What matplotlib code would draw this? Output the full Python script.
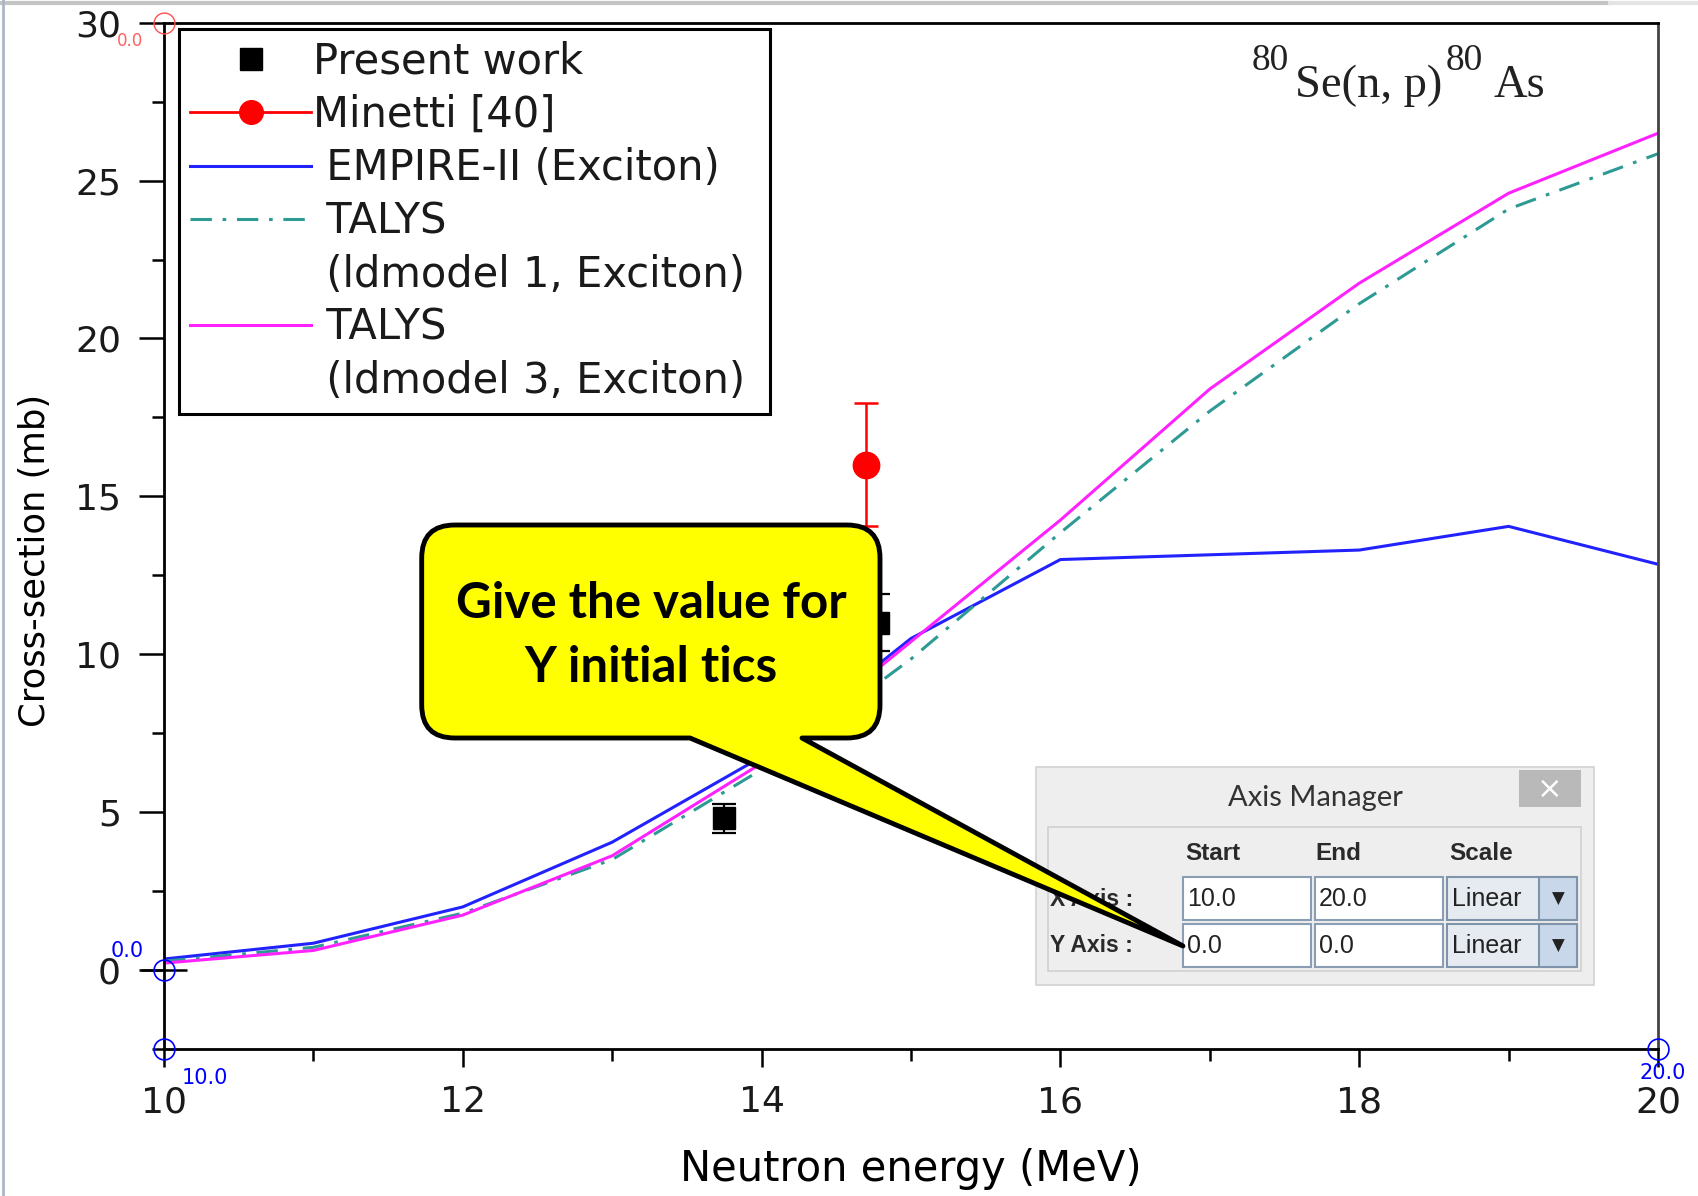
import matplotlib
matplotlib.use('Agg')
import matplotlib.pyplot as plt
from matplotlib.lines import Line2D
from matplotlib.patches import Rectangle, PathPatch
from matplotlib.path import Path
from matplotlib.ticker import MultipleLocator

W, H = 1698, 1196

# cross-section curves (mb) vs neutron energy (MeV)
energy = [10, 11, 12, 13, 14, 15, 16, 17, 18, 19, 20]
empire = [0.35, 0.85, 2.0, 4.05, 6.75, 10.5, 13.0, 13.15, 13.3, 14.05, 12.85]
talys_ld1 = [0.28, 0.72, 1.8, 3.5, 6.35, 9.85, 13.85, 17.7, 21.1, 24.1, 25.85]
talys_ld3 = [0.22, 0.62, 1.74, 3.62, 6.55, 10.4, 14.25, 18.4, 21.75, 24.6, 26.5]

# measured points
present_e = [13.75, 14.78]
present_xs = [4.8, 11.0]
present_err = [0.45, 0.9]
minetti_e = [14.7]
minetti_xs = [16.0]
minetti_err = [1.95]

# digitizer calibration points
calib_x = [10, 10, 20]
calib_y = [0, -2.5, -2.5]
calib_labels = ['0.0', '10.0', '20.0']
calib_red = (10, 30)

# axis manager values
x_range = ['10.0', '20.0']
y_range = ['0.0', '0.0']
scale_names = ['Linear', 'Linear']


def fx(x):
    return x / W


def fy(y):
    return 1 - y / H


plt.rcParams['text.color'] = '#1a1a1a'

fig = plt.figure(figsize=(W / 100, H / 100), dpi=100)
ax = fig.add_axes([fx(164), fy(1049), (1658 - 164) / W, (1049 - 22.7) / H])

l_emp, = ax.plot(energy, empire, color='#2222ff', lw=2.2)
l_ld1, = ax.plot(energy, talys_ld1, color='#2e9a94', lw=2.2, ls=(0, (7, 3.5, 1.2, 3.5)))
l_ld3, = ax.plot(energy, talys_ld3, color='#ff22ff', lw=2.2)
ax.errorbar(present_e, present_xs, yerr=present_err, fmt='s', color='k', ms=16,
            capsize=8.5, elinewidth=1.6, capthick=1.6, zorder=4)
ax.errorbar(minetti_e, minetti_xs, yerr=minetti_err, fmt='o-', color='red', ms=19,
            capsize=8.5, elinewidth=1.8, capthick=1.8, zorder=4)

ax.set_xlim(10, 20)
ax.set_ylim(-2.5, 30)
ax.xaxis.set_major_locator(MultipleLocator(2))
ax.xaxis.set_minor_locator(MultipleLocator(1))
ax.yaxis.set_major_locator(MultipleLocator(5))
ax.yaxis.set_minor_locator(MultipleLocator(2.5))
ax.tick_params(axis='y', which='major', length=18, width=1.8, pad=13, labelsize=26, labelcolor='#1a1a1a')
ax.tick_params(axis='x', which='major', length=13, width=1.8, pad=13, labelsize=26, labelcolor='#1a1a1a')
ax.tick_params(which='minor', length=8.6, width=1.8)
for side in ['left', 'bottom', 'top']:
    ax.spines[side].set_linewidth(2)
ax.spines['right'].set_linewidth(2)
ax.spines['right'].set_color('#444444')

ax.set_xlabel('Neutron energy (MeV)', fontsize=30)
ax.xaxis.set_label_coords(0.5, -(1148 - 1049) / 1026.3)
ax.set_ylabel('Cross-section (mb)', fontsize=25.5)
ax.yaxis.set_label_coords((52 - 164) / 1494, 0.4765)

# reaction label: 80Se(n, p)80As with large mass numbers
for x0, y0, s, size in [(1252, 70, '80', 27), (1295, 97, 'Se(n, p)', 33.5),
                        (1446, 70, '80', 27), (1494, 97, 'As', 33.5)]:
    fig.text(fx(x0), fy(y0), s, fontsize=size, fontfamily='Liberation Serif',
             color='#222222', ha='left', va='baseline')

# legend, two-line TALYS labels use an empty handle for the second row
blank = Line2D([], [], ls='none')
handles = [Line2D([], [], ls='none', marker='s', ms=16, color='k'),
           Line2D([], [], color='red', marker='o', ms=17, lw=2),
           l_emp, l_ld1, blank, l_ld3, blank]
labels = ['Present work', 'Minetti [40]', ' EMPIRE-II (Exciton)', ' TALYS',
          ' (ldmodel 1, Exciton)', ' TALYS', ' (ldmodel 3, Exciton) ']
leg = ax.legend(handles, labels, loc='upper left', bbox_to_anchor=(14.6 / 1494, 1 - 6.3 / 1026.3),
                borderaxespad=0, fontsize=30, handlelength=2.9, handletextpad=0.05,
                labelspacing=0.27, borderpad=0.28, fancybox=False, edgecolor='k',
                framealpha=1, numpoints=1)
leg.get_frame().set_linewidth(2.2)

# calibration markers of the digitizer
ax.plot(calib_x, calib_y, 'o', mfc='none', mec='blue', ms=15, mew=1.2, clip_on=False, zorder=6)
ax.plot([calib_red[0]], [calib_red[1]], 'o', mfc='none', mec='#ff5050', ms=15, mew=1.0,
        clip_on=False, zorder=6)
ax.plot([calib_x[0]], [calib_y[0]], marker='_', ms=33, mew=1.8, color='k', clip_on=False, zorder=5)
offsets = [(-14.5, 6.5, 'right', 'bottom'), (13, -13.5, 'left', 'top'), (3.6, -10, 'center', 'top')]
for x, y, t, (dx, dy, ha, va) in zip(calib_x, calib_y, calib_labels, offsets):
    ax.annotate(t, xy=(x, y), xytext=(dx, dy), textcoords='offset points', ha=ha, va=va,
                color='blue', fontsize=15, annotation_clip=False)
ax.annotate('0.0', xy=calib_red, xytext=(-15, -6.5), textcoords='offset points', ha='right',
            va='top', color='#ff6060', fontsize=12, annotation_clip=False)

# window edges
fig.add_artist(Line2D([0, fx(1610)], [fy(2.5)] * 2, color='#c4c4c4', lw=3, transform=fig.transFigure))
fig.add_artist(Line2D([fx(1610), 1], [fy(2.5)] * 2, color='#e4e4e4', lw=3, transform=fig.transFigure))
fig.add_artist(Line2D([fx(2.5)] * 2, [0, 1], color='#aab6c6', lw=2, transform=fig.transFigure))


def box(x0, y0, x1, y1, **kw):
    r = Rectangle((fx(x0), fy(y1)), fx(x1) - fx(x0), fy(y0) - fy(y1),
                  transform=fig.transFigure, **kw)
    fig.add_artist(r)
    return r


# axis manager dialog
box(1036, 767, 1594, 985, fc='#eeeeee', ec='#d2d2d2', lw=1.2, zorder=10)
box(1048, 827, 1581, 971, fc='#eeeeee', ec='#d0d0d0', lw=1.2, zorder=10)
box(1519, 770, 1581, 807, fc='#b9b9b9', ec='none', zorder=10)
fig.text(fx(1550), fy(789), '\u00d7', color='white', fontsize=22, ha='center', va='center', zorder=11)
fig.text(fx(1315), fy(798), 'Axis Manager', fontsize=21, fontfamily='Lato', color='#333333',
         ha='center', va='center', zorder=11)
for xh, name in zip([1185, 1315, 1449], ['Start', 'End', 'Scale']):
    fig.text(fx(xh), fy(853), name, fontsize=17.5, fontweight='bold', fontfamily='Liberation Sans',
             color='#2a2a2a', ha='left', va='center', zorder=11)
rows = [('X Axis :', 877, x_range, scale_names[0]), ('Y Axis :', 924, y_range, scale_names[1])]
for name, top, vals, sc in rows:
    cy = top + 22
    fig.text(fx(1050), fy(cy), name, fontsize=16.5, fontweight='bold', fontfamily='Liberation Sans',
             color='#2a2a2a', ha='left', va='center', zorder=11)
    for x0, v in zip([1183, 1315], vals):
        box(x0, top, x0 + 128, top + 43, fc='white', ec='#8b9db3', lw=1.5, zorder=10)
        fig.text(fx(x0 + 4), fy(cy), v, fontsize=18, fontfamily='Liberation Sans', color='#222222',
                 ha='left', va='center', zorder=11)
    box(1447, top, 1577, top + 43, fc='#e6ebf1', ec='#7f93ab', lw=1.5, zorder=10)
    box(1539, top, 1577, top + 43, fc='#c8d8ea', ec='#7f93ab', lw=1.5, zorder=10)
    fig.text(fx(1452), fy(cy), sc, fontsize=18, fontfamily='Liberation Sans', color='#222222',
             ha='left', va='center', zorder=11)
    fig.text(fx(1558), fy(cy), '\u25bc', fontsize=12, color='#222222', ha='center', va='center', zorder=11)

# callout bubble with a tail pointing at the Y start field
L, R, T, B, rad = 421.7, 880, 525, 738, 33
tip = (1183, 946)
pts = [(L + rad, T), (R - rad, T), (R, T), (R, T + rad), (R, B - rad), (R, B), (R - rad, B),
       (802, B), tip, (690, B), (L + rad, B), (L, B), (L, B - rad), (L, T + rad), (L, T), (L + rad, T)]
codes = [Path.MOVETO, Path.LINETO, Path.CURVE3, Path.CURVE3, Path.LINETO, Path.CURVE3, Path.CURVE3,
         Path.LINETO, Path.LINETO, Path.LINETO, Path.LINETO, Path.CURVE3, Path.CURVE3, Path.LINETO,
         Path.CURVE3, Path.CURVE3]
bubble = Path([(fx(x), fy(y)) for x, y in pts], codes)
fig.add_artist(PathPatch(bubble, fc='#ffff00', ec='black', lw=3.5, joinstyle='round',
                         transform=fig.transFigure, zorder=20))
fig.text(fx(651), fy(618), 'Give the value for', fontsize=35.5, fontweight='bold', fontfamily='Lato',
         color='black', ha='center', va='baseline', zorder=21)
fig.text(fx(651), fy(682), 'Y initial tics', fontsize=35.5, fontweight='bold', fontfamily='Lato',
         color='black', ha='center', va='baseline', zorder=21)

fig.savefig('out.png', dpi=100)
